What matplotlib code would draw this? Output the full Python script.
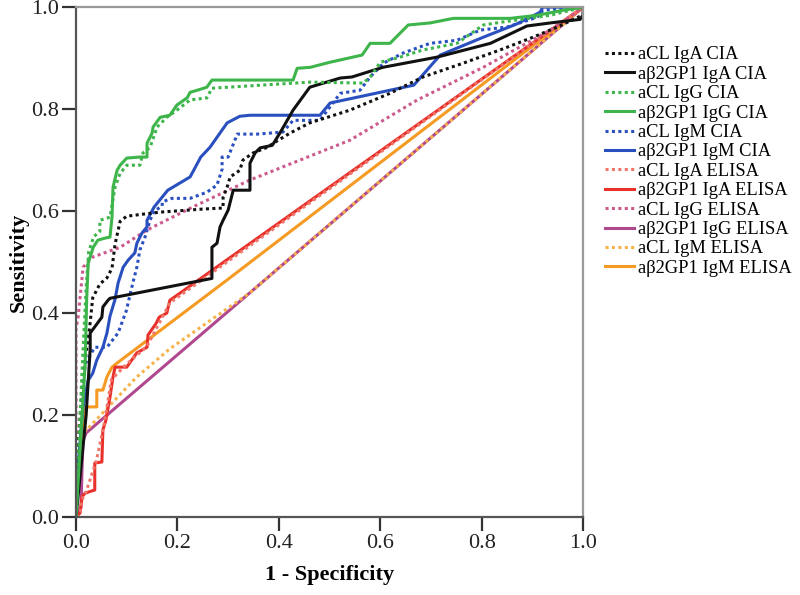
import matplotlib
matplotlib.use("Agg")
import matplotlib.pyplot as plt

plt.rcParams['font.family'] = ['Liberation Serif', 'DejaVu Serif']

# ---- data (1 - specificity, sensitivity) ----
acl_iga_cia_x = [0, 0.005, 0.012, 0.018, 0.027, 0.033, 0.047, 0.061, 0.071, 0.077, 0.087, 0.10, 0.132, 0.166, 0.250, 0.290, 0.290, 0.298, 0.304, 0.323, 0.329, 0.349, 0.377, 0.389, 0.422, 0.461, 0.540, 0.619, 0.684, 0.763, 0.836, 0.901, 0.949, 1.0, 1.0]
acl_iga_cia_y = [0, 0.15, 0.25, 0.308, 0.373, 0.43, 0.457, 0.469, 0.488, 0.535, 0.58, 0.59, 0.594, 0.598, 0.604, 0.606, 0.627, 0.647, 0.667, 0.680, 0.70, 0.714, 0.725, 0.733, 0.753, 0.773, 0.798, 0.831, 0.863, 0.890, 0.916, 0.941, 0.961, 0.985, 1.0]

b2_iga_cia_x = [0, 0.01, 0.02, 0.028, 0.028, 0.037, 0.051, 0.053, 0.063, 0.067, 0.268, 0.268, 0.278, 0.284, 0.290, 0.300, 0.310, 0.343, 0.343, 0.353, 0.363, 0.387, 0.402, 0.428, 0.461, 0.521, 0.544, 0.605, 0.712, 0.817, 0.889, 0.935, 0.994, 1.0, 1.0]
b2_iga_cia_y = [0, 0.1, 0.2, 0.33, 0.361, 0.373, 0.392, 0.412, 0.425, 0.429, 0.468, 0.529, 0.537, 0.569, 0.582, 0.602, 0.641, 0.641, 0.694, 0.714, 0.724, 0.729, 0.753, 0.798, 0.843, 0.861, 0.863, 0.882, 0.902, 0.929, 0.963, 0.969, 0.976, 0.985, 1.0]

acl_igg_cia_x = [0, 0.008, 0.015, 0.02, 0.025, 0.035, 0.047, 0.047, 0.067, 0.077, 0.087, 0.10, 0.126, 0.132, 0.146, 0.160, 0.179, 0.199, 0.225, 0.258, 0.268, 0.462, 0.566, 0.580, 0.600, 0.639, 0.684, 0.751, 0.803, 0.842, 0.935, 1.0]
acl_igg_cia_y = [0, 0.2, 0.35, 0.45, 0.52, 0.55, 0.56, 0.582, 0.588, 0.647, 0.674, 0.690, 0.690, 0.714, 0.725, 0.765, 0.784, 0.798, 0.818, 0.822, 0.841, 0.853, 0.851, 0.863, 0.892, 0.902, 0.916, 0.929, 0.965, 0.971, 0.984, 1.0]

b2_igg_cia_x = [0, 0.006, 0.012, 0.018, 0.021, 0.024, 0.034, 0.043, 0.057, 0.067, 0.071, 0.073, 0.081, 0.087, 0.10, 0.126, 0.140, 0.140, 0.150, 0.152, 0.166, 0.185, 0.199, 0.219, 0.225, 0.239, 0.258, 0.268, 0.428, 0.436, 0.462, 0.501, 0.564, 0.580, 0.619, 0.655, 0.698, 0.744, 0.856, 0.909, 0.961, 1.0]
b2_igg_cia_y = [0, 0.1, 0.2, 0.3, 0.425, 0.498, 0.529, 0.543, 0.547, 0.549, 0.588, 0.647, 0.680, 0.690, 0.704, 0.706, 0.706, 0.733, 0.753, 0.765, 0.784, 0.788, 0.808, 0.822, 0.833, 0.837, 0.843, 0.857, 0.857, 0.880, 0.882, 0.892, 0.906, 0.929, 0.929, 0.965, 0.969, 0.978, 0.978, 0.984, 0.994, 1.0]

acl_igm_cia_x = [0, 0.008, 0.014, 0.018, 0.037, 0.061, 0.083, 0.099, 0.112, 0.120, 0.126, 0.136, 0.146, 0.154, 0.170, 0.170, 0.189, 0.225, 0.258, 0.278, 0.288, 0.288, 0.300, 0.318, 0.357, 0.383, 0.408, 0.428, 0.481, 0.521, 0.560, 0.580, 0.606, 0.645, 0.698, 0.751, 0.797, 0.850, 0.909, 0.921, 1.0]
acl_igm_cia_y = [0, 0.15, 0.25, 0.30, 0.333, 0.333, 0.361, 0.404, 0.459, 0.490, 0.524, 0.549, 0.582, 0.600, 0.610, 0.618, 0.625, 0.625, 0.637, 0.651, 0.682, 0.706, 0.706, 0.751, 0.751, 0.753, 0.755, 0.778, 0.778, 0.831, 0.837, 0.863, 0.890, 0.910, 0.929, 0.935, 0.955, 0.961, 0.980, 0.994, 1.0]

b2_igm_cia_x = [0, 0.004, 0.010, 0.014, 0.024, 0.033, 0.041, 0.053, 0.061, 0.067, 0.077, 0.083, 0.093, 0.103, 0.116, 0.120, 0.130, 0.140, 0.140, 0.154, 0.181, 0.225, 0.246, 0.264, 0.298, 0.323, 0.343, 0.481, 0.501, 0.666, 0.718, 0.803, 0.869, 0.915, 0.92, 1.0]
b2_igm_cia_y = [0, 0.1, 0.17, 0.216, 0.268, 0.282, 0.308, 0.333, 0.361, 0.394, 0.427, 0.459, 0.490, 0.504, 0.518, 0.537, 0.557, 0.569, 0.582, 0.608, 0.641, 0.667, 0.706, 0.725, 0.773, 0.786, 0.788, 0.788, 0.812, 0.847, 0.906, 0.941, 0.967, 0.990, 1.0, 1.0]

acl_iga_elisa_x = [0, 0.008, 0.014, 0.02, 0.04, 0.055, 0.07, 0.10, 0.14, 0.185, 1.0]
acl_iga_elisa_y = [0, 0.01, 0.04, 0.05, 0.11, 0.18, 0.27, 0.30, 0.335, 0.42, 1.0]

b2_iga_elisa_x = [0, 0.008, 0.012, 0.018, 0.037, 0.037, 0.051, 0.053, 0.059, 0.067, 0.073, 0.077, 0.100, 0.120, 0.140, 0.142, 0.158, 0.164, 0.179, 0.185, 1.0]
b2_iga_elisa_y = [0, 0.008, 0.04, 0.047, 0.053, 0.106, 0.108, 0.171, 0.190, 0.235, 0.275, 0.294, 0.294, 0.322, 0.333, 0.357, 0.380, 0.392, 0.400, 0.425, 1.0]

acl_igg_elisa_x = [0, 0.0, 0.004, 0.014, 0.033, 0.087, 0.140, 0.230, 0.343, 0.540, 0.673, 0.803, 0.935, 1.0]
acl_igg_elisa_y = [0, 0.37, 0.39, 0.49, 0.510, 0.529, 0.563, 0.608, 0.661, 0.739, 0.818, 0.882, 0.955, 1.0]

b2_igg_elisa_x = [0, 0.010, 0.012, 0.014, 0.020, 0.343, 1.0]
b2_igg_elisa_y = [0, 0.02, 0.10, 0.15, 0.165, 0.44, 1.0]

acl_igm_elisa_x = [0, 0.004, 0.006, 0.014, 0.020, 0.120, 0.185, 0.343, 1.0]
acl_igm_elisa_y = [0, 0.10, 0.18, 0.20, 0.17, 0.275, 0.33, 0.44, 1.0]

b2_igm_elisa_x = [0, 0.002, 0.008, 0.014, 0.018, 0.041, 0.041, 0.053, 0.061, 0.071, 0.081, 0.298, 1.0]
b2_igm_elisa_y = [0, 0.05, 0.125, 0.165, 0.216, 0.216, 0.249, 0.249, 0.275, 0.294, 0.302, 0.465, 1.0]

labels = ["aCL IgA CIA", "a\u03b22GP1 IgA CIA", "aCL IgG CIA", "a\u03b22GP1 IgG CIA",
          "aCL IgM CIA", "a\u03b22GP1 IgM CIA", "aCL IgA ELISA", "a\u03b22GP1 IgA ELISA",
          "aCL IgG ELISA", "a\u03b22GP1 IgG ELISA", "aCL IgM ELISA", "a\u03b22GP1 IgM ELISA"]

series = [
    (acl_iga_cia_x, acl_iga_cia_y, "#111111", ":"),
    (b2_iga_cia_x, b2_iga_cia_y, "#111111", "-"),
    (acl_igg_cia_x, acl_igg_cia_y, "#3db54a", ":"),
    (b2_igg_cia_x, b2_igg_cia_y, "#3db54a", "-"),
    (acl_igm_cia_x, acl_igm_cia_y, "#2a50c0", ":"),
    (b2_igm_cia_x, b2_igm_cia_y, "#2a50c0", "-"),
    (acl_iga_elisa_x, acl_iga_elisa_y, "#f0766a", ":"),
    (b2_iga_elisa_x, b2_iga_elisa_y, "#e8312b", "-"),
    (acl_igg_elisa_x, acl_igg_elisa_y, "#cc5a8c", ":"),
    (b2_igg_elisa_x, b2_igg_elisa_y, "#b04890", "-"),
    (acl_igm_elisa_x, acl_igm_elisa_y, "#f8b24a", ":"),
    (b2_igm_elisa_x, b2_igm_elisa_y, "#f59a22", "-"),
]

fig = plt.figure(figsize=(8, 5.95), dpi=100)
ax = fig.add_axes([0.095, 0.131, 0.634, 0.857])

# draw order: ELISA first, CIA on top
order = [9, 10, 11, 7, 6, 8, 5, 4, 1, 0, 3, 2]
handles = {}
for i in order:
    x, y, c, ls = series[i]
    if ls == ":":
        h, = ax.plot(x, y, color=c, lw=2.2, linestyle=(0, (1, 1.1)), label=labels[i])
    else:
        h, = ax.plot(x, y, color=c, lw=2.2, linestyle="-", label=labels[i])
    handles[i] = h

ax.set_xlim(0, 1.0)
ax.set_ylim(0, 1.0)
ticks = [0.0, 0.2, 0.4, 0.6, 0.8, 1.0]
ax.set_xticks(ticks)
ax.set_yticks(ticks)
ax.set_xticklabels(["%.1f" % t for t in ticks])
ax.set_yticklabels(["%.1f" % t for t in ticks])
ax.tick_params(direction="out", length=10, width=1.6, labelsize=16, color="#333333",
               labelcolor="#222222", pad=2)
for s in ["left", "bottom"]:
    ax.spines[s].set_color("#555555")
    ax.spines[s].set_linewidth(1.6)
for s in ["top", "right"]:
    ax.spines[s].set_color("#999999")
    ax.spines[s].set_linewidth(1.6)

ax.set_xlabel("1 - Specificity", fontsize=16, fontweight="bold", labelpad=9)
ax.set_ylabel("Sensitivity", fontsize=16, fontweight="bold", labelpad=2)

leg = fig.legend([handles[i] for i in range(12)], labels, loc="upper left",
                 bbox_to_anchor=(0.756, 0.922), frameon=False, fontsize=13.3,
                 handlelength=1.6, handletextpad=0.2, labelspacing=0.13,
                 borderaxespad=0, borderpad=0)

fig.savefig("out.png", dpi=100)
